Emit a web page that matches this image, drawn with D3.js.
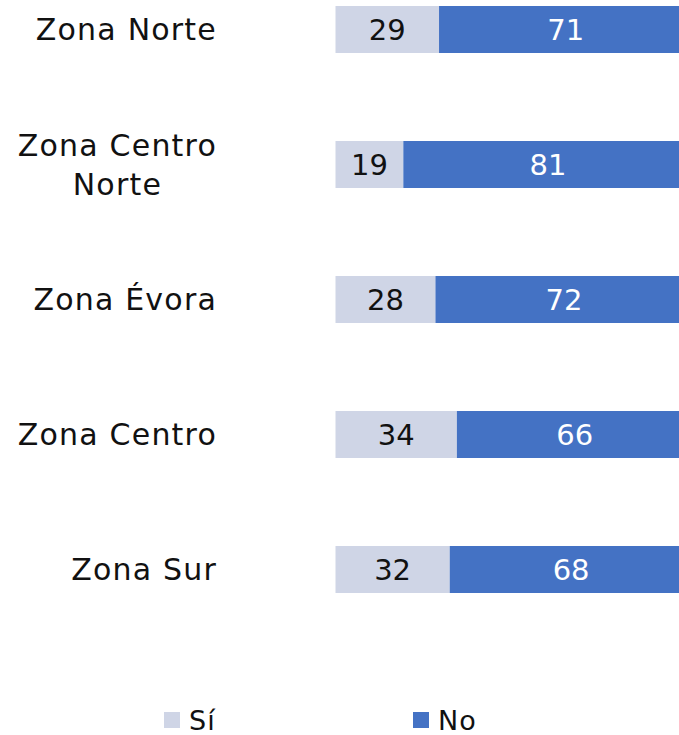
<!DOCTYPE html>
<html>
<head>
<meta charset="utf-8">
<script src="https://cdn.jsdelivr.net/npm/d3@7"></script>
<style>
body { margin: 0; background: #fff; }
text { font-family: "DejaVu Sans", "Noto Sans", sans-serif; }
</style>
</head>
<body>
<svg></svg>
<script>
const zonas = ["Zona Norte", "Zona Centro Norte", "Zona Évora", "Zona Centro", "Zona Sur"];
const zonaLines = [["Zona Norte"], ["Zona Centro", "Norte"], ["Zona Évora"], ["Zona Centro"], ["Zona Sur"]];
const si = [29, 19, 28, 34, 32];
const no = [71, 81, 72, 66, 68];
const series = ["Sí", "No"];
const colors = ["#cfd5e6", "#4472c4"];

const w = 679, h = 735;
// the plot runs a bit past the right edge, bars are cut off there
const margin = {top: -38, right: -13.5, bottom: 0, left: 335.5};
const labelRight = 217;

const svg = d3.select('svg')
	.attr('width', w)
	.attr('height', h)
	.attr('viewBox', [0, 0, w, h]);

const data = zonas.map((z, i) => ({zona: z, lines: zonaLines[i], "Sí": si[i], "No": no[i]}));
const stacked = d3.stack().keys(series)(data);

const xScale = d3.scaleLinear()
	.domain([0, 100])
	.range([margin.left, w - margin.right]);

// step 135, bar 47
const yScale = d3.scaleBand()
	.domain(zonas)
	.range([margin.top, margin.top + 135 * zonas.length])
	.paddingInner(88 / 135)
	.paddingOuter(44 / 135);

const layer = svg.selectAll('g.layer')
	.data(stacked)
	.enter()
	.append('g')
		.attr('class', 'layer')
		.attr('fill', (d, i) => colors[i]);

layer.selectAll('rect')
	.data(d => d)
	.enter()
	.append('rect')
		.attr('x', d => xScale(d[0]))
		.attr('y', d => yScale(d.data.zona))
		.attr('width', d => xScale(d[1]) - xScale(d[0]))
		.attr('height', yScale.bandwidth());

layer.selectAll('text')
	.data(d => d)
	.enter()
	.append('text')
		.attr('x', d => (xScale(d[0]) + xScale(d[1])) / 2)
		.attr('y', d => yScale(d.data.zona) + yScale.bandwidth() / 2)
		.attr('dy', '0.36em')
		.attr('text-anchor', 'middle')
		.attr('font-size', 29)
		.attr('fill', (d, i, nodes) => d3.select(nodes[i].parentNode).datum().key === "No" ? '#fff' : '#111')
		.text(d => d[1] - d[0]);

// category labels, lines centred on each other, block right-aligned
const lineH = 39;
svg.selectAll('g.cat')
	.data(data)
	.enter()
	.append('g')
		.attr('class', 'cat')
	.each(function(d) {
		const g = d3.select(this);
		const cy = yScale(d.zona) + yScale.bandwidth() / 2;
		const texts = g.selectAll('text')
			.data(d.lines)
			.enter()
			.append('text')
				.attr('font-size', 30)
				.attr('letter-spacing', 1.2)
				.attr('fill', '#111')
				.attr('text-anchor', 'middle')
				.attr('y', (l, i) => cy + (i - (d.lines.length - 1) / 2) * lineH)
				.attr('dy', '0.36em')
				.text(l => l);
		const maxW = d3.max(texts.nodes(), n => n.getComputedTextLength());
		texts.attr('x', labelRight - maxW / 2);
	});

// legend
const legendX = d3.scaleOrdinal().domain(series).range([164, 413]);
const legend = svg.selectAll('g.legend')
	.data(series)
	.enter()
	.append('g')
		.attr('class', 'legend')
		.attr('transform', d => `translate(${legendX(d)},712)`);

legend.append('rect')
	.attr('width', 16)
	.attr('height', 16)
	.attr('fill', (d, i) => colors[i]);

legend.append('text')
	.attr('x', 25)
	.attr('y', 8)
	.attr('dy', '0.36em')
	.attr('font-size', 27)
	.attr('letter-spacing', 1)
	.attr('fill', '#111')
	.text(d => d);
</script>
</body>
</html>
